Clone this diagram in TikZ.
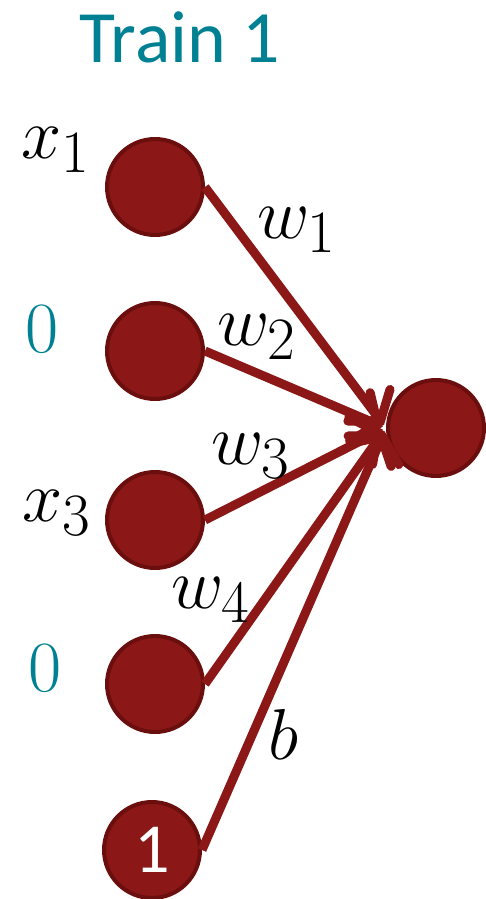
\documentclass[tikz,border=0pt]{standalone}
\usepackage{amsmath,amssymb}
\usepackage{xcolor}
\usepackage{fontspec}
\setmainfont{Carlito}
\usepackage{tikz}
\usetikzlibrary{arrows.meta,positioning,calc}
\definecolor{granate}{HTML}{8B1717}
\definecolor{borde}{HTML}{6A0E0E}
\definecolor{petroleo}{HTML}{008093}
\newcommand{\etq}[1]{\scalebox{1.65}{$#1$}}

\begin{document}
\begin{tikzpicture}[x=0.02cm, y=-0.02cm,
  every node/.style={circle,fill=granate,draw=borde,line width=0.08cm,minimum size=1.92cm,inner sep=0pt},
  lab/.style={draw=none,fill=none,rectangle,inner sep=0pt,minimum size=0pt,font=\Huge},
  peso/.style={draw=granate,line width=0.18cm,-{Straight Barb[length=11pt,width=30pt,line cap=round]},shorten >=2pt}]
  \useasboundingbox (0,0) rectangle (485,899);
  \node[lab,text=petroleo,font=\fontsize{42}{46}\selectfont] (titulo) at (180,37) {Train 1};
  % entradas
  \node (i1) at (155,187) {}; \node[lab] at (56,150) {\etq{x_1}};
  \node (i2) at (155,351) {}; \node[lab,text=petroleo] at (42,329) {\etq{0}};
  \node (i3) at (155,520) {}; \node[lab] at (57,513) {\etq{x_3}};
  \node (i4) at (155,684) {}; \node[lab,text=petroleo] at (45,668) {\etq{0}};
  \node[text=white,font=\fontsize{40}{44}\selectfont] (i5) at (152,850) {1};
  % salida
  \node (o) at (436,428) {};
  \draw[peso] (i1.east) -- (o.west); \node[lab] at (297,230) {\etq{w_1}};
  \draw[peso] (i2.east) -- (o.west); \node[lab] at (257,337) {\etq{w_2}};
  \draw[peso] (i3.east) -- (o.west); \node[lab] at (251,456) {\etq{w_3}};
  \draw[peso] (i4.east) -- (o.west); \node[lab] at (211,600) {\etq{w_4}};
  \draw[peso] (i5.east) -- (o.west); \node[lab] at (284,734) {\etq{b}};
\end{tikzpicture}
\end{document}
